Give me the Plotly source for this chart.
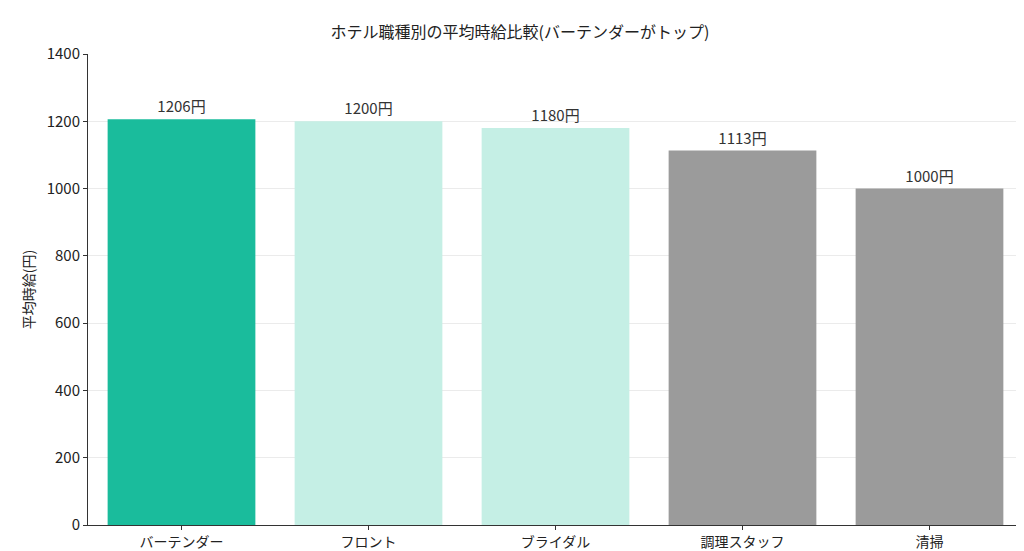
import plotly.graph_objects as go

categories = ["バーテンダー", "フロント", "ブライダル", "調理スタッフ", "清掃"]
wages = [1206, 1200, 1180, 1113, 1000]
colors = ["#1abc9c", "#c5efe5", "#c5efe5", "#9b9b9b", "#9b9b9b"]
labels = [f"{v}円" for v in wages]

font = "Noto Sans CJK JP"

fig = go.Figure(go.Bar(
    x=categories, y=wages, marker_color=colors, marker_line_width=0,
    text=labels, textposition="outside", cliponaxis=False,
    textfont=dict(size=15, color="#333333"),
))

fig.update_layout(
    width=1024, height=551,
    margin=dict(l=80, r=9, t=46, b=34),
    plot_bgcolor="white", paper_bgcolor="white",
    font=dict(family=font, size=14, color="#222222"),
    title=dict(text="ホテル職種別の平均時給比較(バーテンダーがトップ)",
               x=0.5, xanchor="center", y=0.965, font=dict(size=16)),
    bargap=0.21,
    showlegend=False,
)
fig.update_xaxes(showline=True, linecolor="#333333", ticks="outside",
                 ticklen=4, tickcolor="#333333", automargin=False,
                 tickfont=dict(size=14))
fig.update_yaxes(range=[0, 1400], dtick=200, showline=True, linecolor="#333333",
                 ticks="outside", ticklen=4, tickcolor="#333333",
                 showgrid=True, gridcolor="#ebebeb", zeroline=False,
                 automargin=False, tickfont=dict(size=15),
                 title=dict(text="平均時給(円)", standoff=8, font=dict(size=14)))

fig.write_html("out.html")
